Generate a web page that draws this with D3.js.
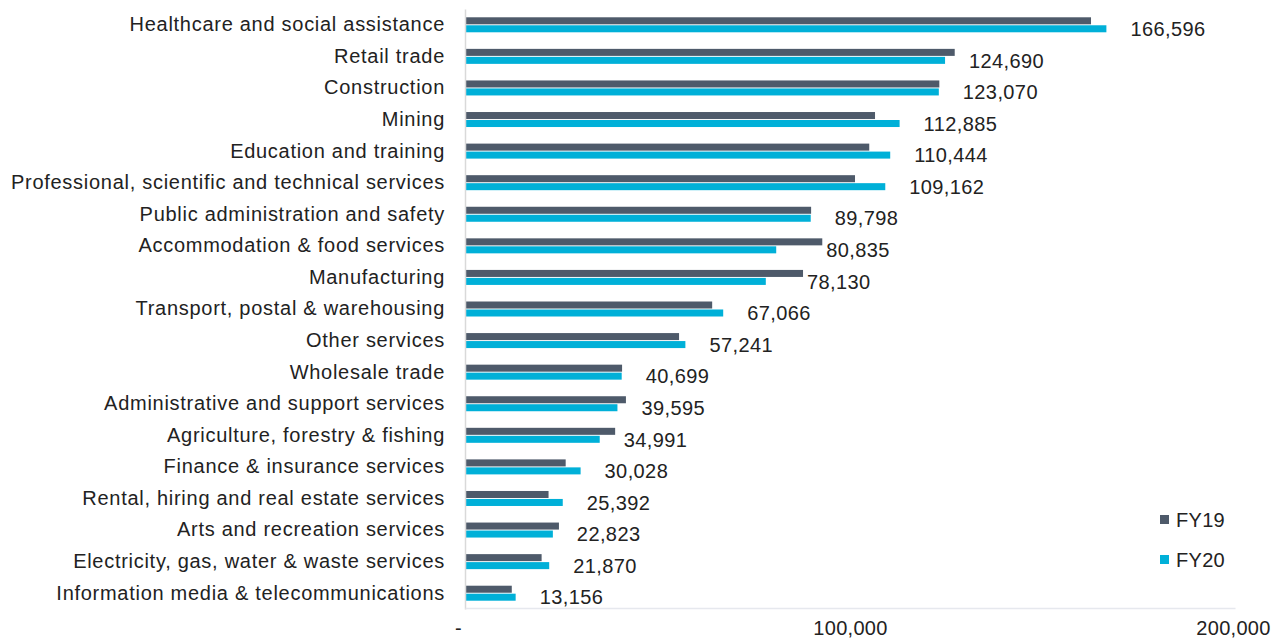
<!DOCTYPE html>
<html lang="en">
<head>
<meta charset="utf-8">
<script src="https://cdn.jsdelivr.net/npm/d3@7"></script>
<style>
  body { margin: 0; background: #fff; }
  svg text { font-family: "Liberation Sans", Arial, sans-serif; fill: #222; }
</style>
</head>
<body>
<script>
  var categories = [
    "Healthcare and social assistance",
    "Retail trade",
    "Construction",
    "Mining",
    "Education and training",
    "Professional, scientific and technical services",
    "Public administration and safety",
    "Accommodation & food services",
    "Manufacturing",
    "Transport, postal & warehousing",
    "Other services",
    "Wholesale trade",
    "Administrative and support services",
    "Agriculture, forestry & fishing",
    "Finance & insurance services",
    "Rental, hiring and real estate services",
    "Arts and recreation services",
    "Electricity, gas, water & waste services",
    "Information media & telecommunications"
  ];
  var fy19 = [162600, 127200, 123200, 106500, 105000, 101300, 89900, 92800, 87800, 64200,
              55600, 40800, 41800, 39000, 26150, 21700, 24400, 19900, 12150];
  var fy20 = [166596, 124690, 123070, 112885, 110444, 109162, 89798, 80835, 78130, 67066,
              57241, 40699, 39595, 34991, 30028, 25392, 22823, 21870, 13156];
  var seriesNames = ["FY19", "FY20"];
  var seriesColors = ["#4e5a6a", "#00b0d8"];
  var xTicks = [0, 100000, 200000];

  const W = 1276, H = 642;
  const svg = d3.select("body").append("svg")
    .attr("width", W).attr("height", H);

  const x = d3.scaleLinear().domain([0, 200000]).range([465, 1235]);
  const y = d3.scaleBand().domain(categories).range([9, 609]);
  const sub = d3.scaleBand().domain(seriesNames).range([-7.5, 7.5]).paddingInner(0.12);

  const rows = categories.map((c, i) => ({ cat: c, vals: [fy19[i], fy20[i]] }));

  // bars
  const groups = svg.selectAll("g.row")
    .data(rows)
    .enter().append("g")
    .attr("class", "row")
    .attr("transform", d => "translate(0," + (y(d.cat) + y.bandwidth() / 2) + ")");

  groups.selectAll("rect")
    .data(d => d.vals.map((v, j) => ({ v: v, s: seriesNames[j], j: j })))
    .enter().append("rect")
    .attr("x", x(0))
    .attr("y", d => sub(d.s))
    .attr("width", d => x(d.v) - x(0))
    .attr("height", sub.bandwidth())
    .style("fill", d => seriesColors[d.j]);

  // value labels (FY20)
  groups.append("text")
    .attr("x", d => Math.max(x(d.vals[1]) + 24, x(d.vals[0]) + 4))
    .attr("y", sub("FY20") + sub.bandwidth() / 2)
    .attr("dy", "0.36em")
    .style("font-size", "20px")
    .style("letter-spacing", "0.4px")
    .text(d => d3.format(",")(d.vals[1]));

  // left axis
  const yAxis = d3.axisLeft(y).tickSize(0).tickPadding(20);
  const ya = svg.append("g")
    .attr("transform", "translate(" + x(0) + ",0)")
    .call(yAxis);
  ya.select(".domain").attr("stroke", "#d9d9d9").attr("stroke-width", 1.5);
  ya.selectAll("text").style("font-size", "20px").style("fill", "#222")
    .style("letter-spacing", "0.72px");

  // bottom axis
  const xAxis = d3.axisBottom(x).tickValues(xTicks).tickSize(0).tickPadding(13)
    .tickFormat(d => d === 0 ? "-" : d3.format(",")(d));
  const xa = svg.append("g")
    .attr("transform", "translate(0," + 608 + ")")
    .call(xAxis);
  xa.select(".domain").attr("stroke", "#e6e8ee").attr("stroke-width", 1.5);
  xa.selectAll("text").style("font-size", "20px").style("fill", "#222")
    .style("letter-spacing", "0.3px")
    .attr("dx", d => d === 0 ? -7 : (d === 200000 ? -2 : 0));

  // legend
  const legend = svg.append("g").attr("transform", "translate(1160,515)");
  seriesNames.forEach((s, i) => {
    legend.append("rect")
      .attr("x", 0).attr("y", i * 40)
      .attr("width", 9).attr("height", 9)
      .style("fill", seriesColors[i]);
    legend.append("text")
      .attr("x", 16).attr("y", i * 40 + 4.5)
      .attr("dy", "0.36em")
      .style("font-size", "20px")
      .style("letter-spacing", "0.3px")
      .text(s);
  });
</script>
</body>
</html>
